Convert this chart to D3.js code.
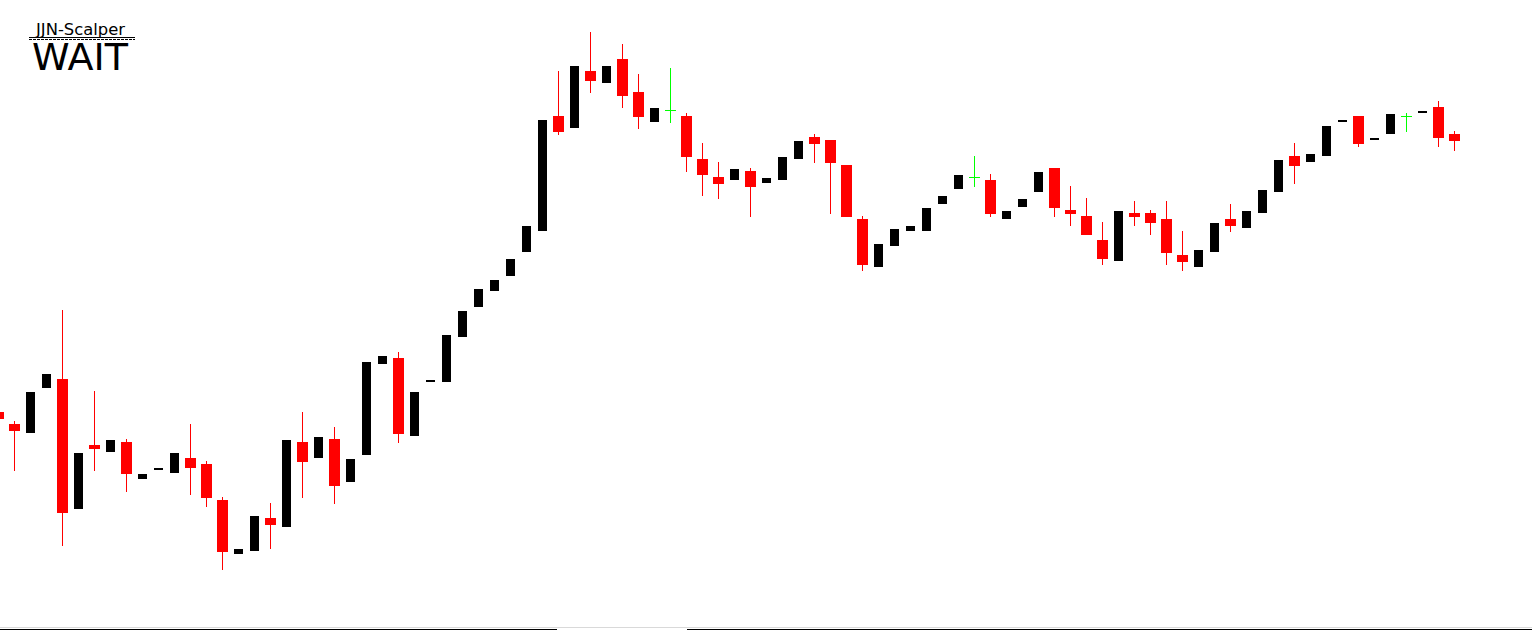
<!DOCTYPE html>
<html>
<head>
<meta charset="utf-8">
<script src="https://cdn.jsdelivr.net/npm/d3@7"></script>
<style>
  html, body { margin: 0; padding: 0; background: #fff; overflow: hidden; }
  svg { display: block; }
</style>
</head>
<body>
<svg id="chart" width="1532" height="630"></svg>
<script>
// Price series (chart price units), one entry per bar, left to right
const open  = [218,206,197,242,251,121,185,178,188,151,160,157,172,166,130,76,79,112,103,188,172,191,148,175,266,272,194,248,248,293,323,339,354,378,399,514,502,559,547,571,538,508,520,514,471,453,450,459,447,450,471,493,490,465,411,363,384,399,399,426,441,453,450,411,423,438,462,420,414,390,369,417,417,411,375,363,378,411,402,417,438,474,468,474,508,514,490,496,514,517,523,496];
const close = [211,199,238,256,117,177,181,190,156,156,162,177,162,132,78,81,114,105,190,168,193,144,171,268,274,196,238,250,295,319,341,350,371,404,510,498,564,549,564,534,513,522,520,473,455,446,461,443,452,473,489,486,467,413,365,386,401,404,422,434,455,453,416,419,431,458,422,416,395,371,419,413,407,377,368,380,407,404,419,440,470,464,476,504,510,486,492,516,514,519,492,489];
const high  = [218,209,238,256,320,177,239,190,191,156,162,177,206,169,133,81,114,127,190,218,193,203,171,268,274,278,238,250,295,319,341,350,371,404,510,559,564,598,564,586,556,522,562,517,487,468,461,462,452,473,489,496,490,465,414,386,401,404,422,434,455,474,456,419,431,458,462,444,432,408,419,429,420,429,399,380,407,426,419,440,470,487,476,504,510,514,492,516,517,519,529,499];
const low   = [211,159,197,242,84,121,159,178,138,151,160,157,135,123,60,76,79,81,103,132,172,126,148,175,266,187,194,248,248,293,323,339,354,378,399,495,502,537,547,522,501,508,507,458,434,431,450,413,447,450,471,467,416,413,359,363,384,399,399,426,441,443,413,411,423,438,413,404,395,365,369,404,395,365,359,363,378,398,402,417,438,446,468,474,508,483,490,496,498,517,483,479];

// Overlay labels
const titleText = "JJN-Scalper";
const signalText = "WAIT";

const W = 1532, H = 630;
const svg = d3.select("#chart");

const bars = open.map((o, i) => ({ i, o, c: close[i], h: high[i], l: low[i] }));

const x = d3.scaleLinear().domain([0, bars.length - 1]).range([-1.5, -1.5 + 16 * (bars.length - 1)]);
const y = d3.scaleLinear().domain([0, 630]).range([630, 0]);

const colorOf = d => d.c > d.o ? "#000000" : (d.c < d.o ? "#ff0000" : "#00ff00");

const g = svg.append("g").attr("shape-rendering", "crispEdges");

// wicks
g.selectAll("rect.wick").data(bars.filter(d => d.c <= d.o)).join("rect")
  .attr("class", "wick")
  .attr("x", d => x(d.i) - 0.5)
  .attr("width", 1)
  .attr("y", d => y(d.h))
  .attr("height", d => y(d.l) - y(d.h))
  .attr("fill", colorOf);

// bodies
g.selectAll("rect.body").data(bars.filter(d => d.c !== d.o)).join("rect")
  .attr("class", "body")
  .attr("x", d => x(d.i) - (d.c > d.o ? 4.5 : 5.5))
  .attr("width", d => d.c > d.o ? 9 : 11)
  .attr("y", d => y(Math.max(d.o, d.c)))
  .attr("height", d => y(Math.min(d.o, d.c)) - y(Math.max(d.o, d.c)))
  .attr("fill", colorOf);

// doji crosses
g.selectAll("rect.doji").data(bars.filter(d => d.c === d.o)).join("rect")
  .attr("class", "doji")
  .attr("x", d => x(d.i) - 5.5)
  .attr("width", 11)
  .attr("y", d => y(d.o))
  .attr("height", 1)
  .attr("fill", colorOf);

// bottom border lines
const b = svg.append("g").attr("shape-rendering", "crispEdges");
b.append("rect").attr("x", 0).attr("y", 627).attr("width", W).attr("height", 1).attr("fill", "#d9d9d9");
b.append("rect").attr("x", 0).attr("y", 629).attr("width", 557).attr("height", 1).attr("fill", "#000");
b.append("rect").attr("x", 687).attr("y", 629).attr("width", W - 687).attr("height", 1).attr("fill", "#000");

// labels
const t = svg.append("g");
t.append("text").attr("x", 36).attr("y", 35)
  .attr("font-family", "DejaVu Sans, Verdana, sans-serif").attr("font-size", 15)
  .attr("textLength", 89).attr("lengthAdjust", "spacingAndGlyphs")
  .attr("fill", "#000").text(titleText);
t.append("line").attr("x1", 29).attr("x2", 135).attr("y1", 37.5).attr("y2", 37.5)
  .attr("stroke", "#000").attr("stroke-width", 1).attr("shape-rendering", "crispEdges");
t.append("line").attr("x1", 29).attr("x2", 135).attr("y1", 39.5).attr("y2", 39.5)
  .attr("stroke", "#000").attr("stroke-width", 1).attr("stroke-dasharray", "3,1").attr("shape-rendering", "crispEdges");
t.append("text").attr("x", 32).attr("y", 70)
  .attr("font-family", "DejaVu Sans, Verdana, sans-serif").attr("font-size", 37)
  .attr("textLength", 96).attr("lengthAdjust", "spacingAndGlyphs")
  .attr("fill", "#000").text(signalText);
</script>
</body>
</html>
